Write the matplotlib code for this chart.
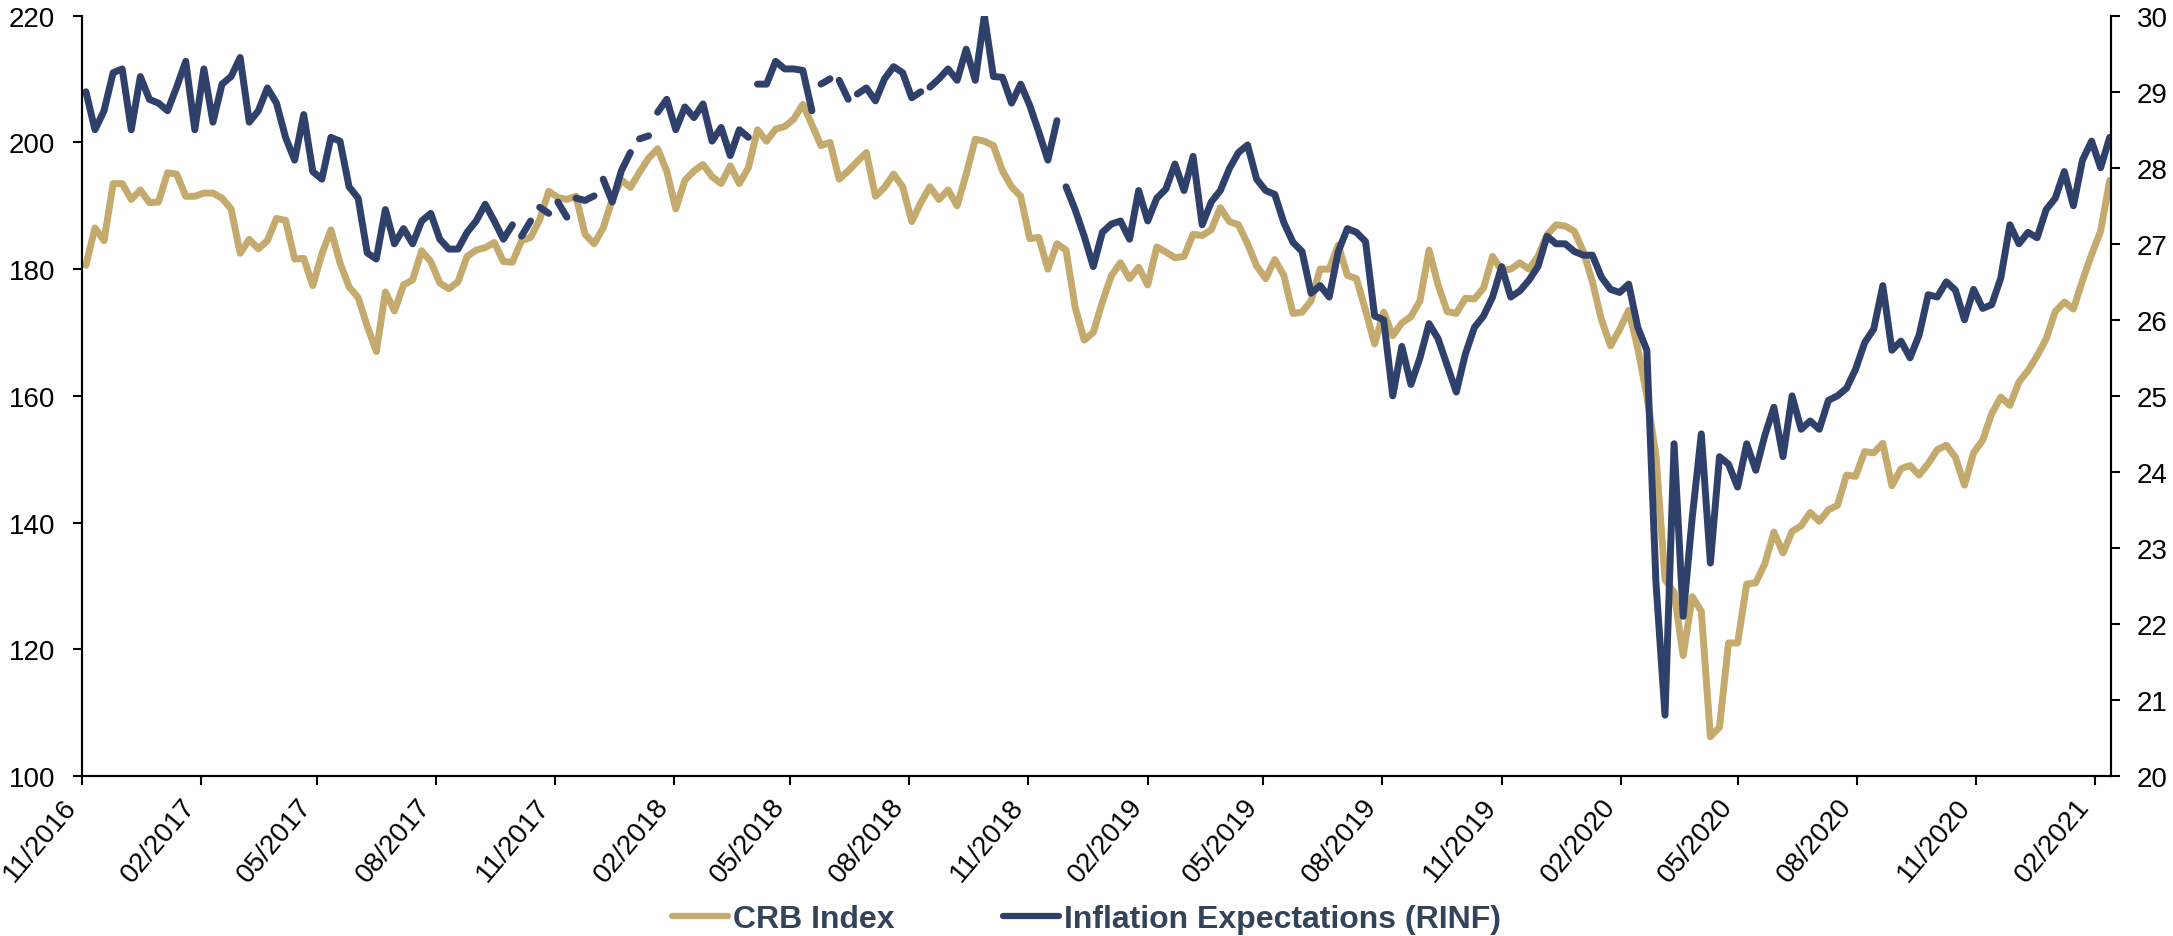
import numpy as np
import pandas as pd
import matplotlib
matplotlib.use("Agg")
import matplotlib.pyplot as plt
from matplotlib.lines import Line2D

plt.rcParams['font.family'] = ['Liberation Sans', 'DejaVu Sans']

week_start = '2016-11-04'

crb_index = [
    180.6, 186.5, 184.5, 193.5, 193.5, 191.0, 192.5, 190.5, 190.6, 195.2,
    195.0, 191.5, 191.5, 192.0, 192.0, 191.2, 189.5, 182.5, 184.7, 183.2,
    184.5, 188.0, 187.7, 181.6, 181.7, 177.4, 182.4, 186.2, 181.0, 177.2,
    175.5, 171.0, 167.0, 176.4, 173.4, 177.5, 178.3, 182.9, 181.2, 177.8,
    176.9, 178.0, 182.0, 183.0, 183.4, 184.2, 181.2, 181.1, 184.5, 185.0,
    187.8, 192.3, 191.3, 191.0, 191.5, 185.5, 184.0, 186.5, 191.0, 194.1,
    192.9, 195.3, 197.5, 199.0, 195.5, 189.5, 194.0, 195.5, 196.5, 194.6,
    193.5, 196.3, 193.5, 196.0, 202.0, 200.2, 202.1, 202.5, 203.7, 206.0,
    202.8, 199.5, 200.0, 194.2, 195.5, 197.0, 198.4, 191.5, 192.9, 195.0,
    193.0, 187.5, 190.5, 193.0, 191.0, 192.5, 190.0, 195.0, 200.5, 200.2,
    199.5, 195.5, 193.0, 191.5, 184.8, 185.0, 180.0, 184.0, 183.0, 174.0,
    168.8, 170.0, 174.8, 179.0, 181.0, 178.5, 180.3, 177.5, 183.5, 182.7,
    181.8, 182.0, 185.5, 185.3, 186.2, 189.7, 187.5, 187.0, 184.0, 180.5,
    178.5, 181.5, 179.0, 173.0, 173.2, 175.0, 180.0, 180.0, 183.8, 179.0,
    178.5, 173.5, 168.2, 173.2, 169.5, 171.5, 172.5, 175.0, 183.0, 177.5,
    173.3, 173.0, 175.4, 175.3, 177.0, 182.0, 179.8, 180.0, 181.0, 180.0,
    182.0, 185.4, 187.0, 186.8, 186.0, 182.8, 178.0, 172.0, 167.9, 170.5,
    173.5, 167.5, 160.0, 150.6, 131.0, 129.0, 119.0, 128.3, 126.0, 106.2,
    107.7, 121.0, 121.0, 130.3, 130.5, 133.5, 138.5, 135.2, 138.6, 139.5,
    141.6, 140.2, 142.0, 142.7, 147.5, 147.3, 151.2, 151.0, 152.5, 145.8,
    148.5, 149.0, 147.5, 149.3, 151.5, 152.2, 150.3, 145.9, 151.0, 153.0,
    157.2, 159.8, 158.5, 162.2, 164.0, 166.3, 169.0, 173.3, 174.8, 173.7,
    178.2, 182.3, 186.0, 194.0,
]

rinf = [
    29.00, 28.50, 28.75, 29.25, 29.30, 28.50, 29.20, 28.90, 28.85, 28.75,
    29.06, 29.40, 28.50, 29.30, 28.60, 29.10, 29.20, 29.45, 28.60, 28.75,
    29.05, 28.85, 28.40, 28.10, 28.70, 27.95, 27.85, 28.40, 28.35, 27.75,
    27.60, 26.88, 26.80, 27.45, 27.00, 27.20, 27.00, 27.30, 27.40, 27.06,
    26.93, 26.93, 27.15, 27.30, 27.52, 27.30, 27.06, 27.25, 27.10, 27.30,
    27.48, 27.40, 27.55, 27.35, 27.60, 27.57, 27.63, 27.85, 27.55, 27.96,
    28.20, 28.38, 28.42, 28.73, 28.90, 28.50, 28.80, 28.66, 28.84, 28.35,
    28.53, 28.16, 28.50, 28.40, 29.10, 29.10, 29.40, 29.30, 29.30, 29.28,
    28.75, 29.10, 29.17, 29.15, 28.90, 28.97, 29.05, 28.88, 29.17, 29.33,
    29.25, 28.92, 29.00, 29.06, 29.17, 29.30, 29.15, 29.56, 29.15, 30.00,
    29.20, 29.19, 28.85, 29.10, 28.82, 28.47, 28.10, 28.62, 27.75, 27.45,
    27.10, 26.70, 27.15, 27.26, 27.30, 27.06, 27.70, 27.30, 27.60, 27.72,
    28.05, 27.70, 28.15, 27.25, 27.55, 27.70, 27.99, 28.20, 28.30, 27.85,
    27.70, 27.65, 27.28, 27.02, 26.90, 26.35, 26.45, 26.30, 26.90, 27.20,
    27.15, 27.03, 26.05, 26.00, 25.00, 25.65, 25.15, 25.50, 25.95, 25.75,
    25.40, 25.05, 25.55, 25.90, 26.05, 26.30, 26.70, 26.30, 26.38, 26.52,
    26.70, 27.10, 27.00, 27.00, 26.90, 26.85, 26.85, 26.56, 26.40, 26.36,
    26.47, 25.90, 25.60, 22.55, 20.80, 24.37, 22.10, 23.40, 24.50, 22.80,
    24.20, 24.10, 23.80, 24.37, 24.02, 24.48, 24.85, 24.20, 25.00, 24.56,
    24.67, 24.56, 24.94, 25.00, 25.10, 25.35, 25.70, 25.88, 26.45, 25.60,
    25.72, 25.50, 25.80, 26.33, 26.30, 26.50, 26.39, 26.00, 26.40, 26.15,
    26.20, 26.55, 27.25, 27.00, 27.15, 27.08, 27.45, 27.60, 27.95, 27.50,
    28.10, 28.35, 28.00, 28.40,
]

# days with no RINF data (breaks in the line)
rinf_missing = [
    '2017-10-02', '2017-10-16', '2017-10-30', '2017-11-13', '2017-12-04',
    '2018-01-01', '2018-01-15', '2018-04-02', '2018-05-21', '2018-06-04',
    '2018-06-18', '2018-08-13', '2018-11-26',
]

tick_dates = pd.date_range('2016-11-01', '2021-02-01', freq='3MS')

TAN = '#C4AA6C'
NAVY = '#2F416B'
LEGEND_TEXT = '#33445A'

dates = pd.date_range(week_start, periods=len(crb_index), freq='7D')
crb_s = pd.Series(crb_index, index=dates)
rinf_s = pd.Series(rinf, index=dates)
gaps = pd.Series(np.nan, index=pd.to_datetime(rinf_missing))
rinf_s = pd.concat([rinf_s, gaps]).sort_index()

W, H = 2173, 937
fig = plt.figure(figsize=(W / 100, H / 100), dpi=100)
ax = fig.add_axes([82 / W, 1 - 777 / H, (2111 - 82) / W, (777 - 16.7) / H])
ax2 = ax.twinx()

ax.plot(crb_s.index, crb_s.values, color=TAN, lw=5,
        solid_capstyle='round', solid_joinstyle='round')
ax2.plot(rinf_s.index, rinf_s.values, color=NAVY, lw=5,
         solid_capstyle='round', solid_joinstyle='round')

ax.set_xlim(pd.Timestamp('2016-11-01'), pd.Timestamp('2021-02-13'))
ax.set_ylim(100, 220)
ax.set_yticks(np.arange(100, 221, 20))
ax2.set_ylim(20, 30)
ax2.set_yticks(np.arange(20, 31, 1))

ax.set_xticks(tick_dates)
ax.set_xticklabels([d.strftime('%m/%Y') for d in tick_dates],
                   rotation=50, ha='right', va='top')

for a in (ax, ax2):
    a.spines['top'].set_visible(False)
    for side in ('left', 'right', 'bottom'):
        a.spines[side].set_linewidth(1.5)
        a.spines[side].set_color('black')

ax.tick_params(axis='x', direction='out', length=6.5, width=1.5,
               labelsize=20, pad=6)
ax.tick_params(axis='y', direction='out', length=6.5, width=1.5,
               labelsize=20, pad=13)
ax2.tick_params(axis='y', direction='out', length=6.5, width=1.5,
                labelsize=20, pad=12)

handles = [Line2D([], [], color=TAN, lw=4.5, solid_capstyle='round'),
           Line2D([], [], color=NAVY, lw=4.5, solid_capstyle='round')]
leg = fig.legend(handles, ['CRB Index', 'Inflation Expectations (RINF)'],
                 loc='center', bbox_to_anchor=(0.5, 1 - 920 / H), ncol=2,
                 frameon=False, handlelength=1.75, handletextpad=0.15,
                 columnspacing=3.4,
                 prop={'family': 'Liberation Sans', 'weight': 'bold', 'size': 23})
for t in leg.get_texts():
    t.set_color(LEGEND_TEXT)

fig.savefig('out.png', dpi=100)
